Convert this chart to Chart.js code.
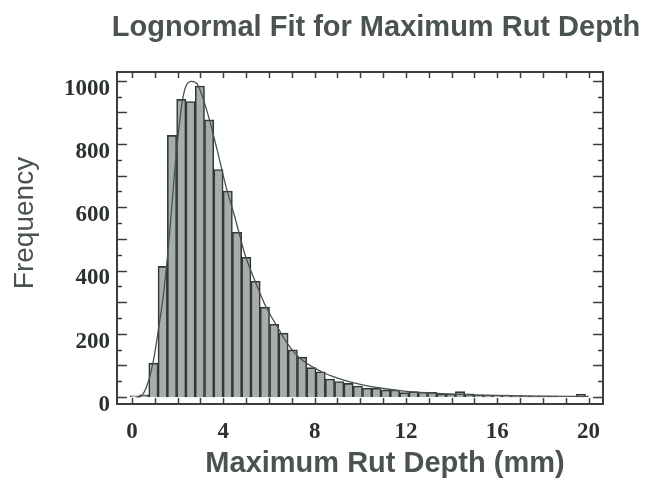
<!DOCTYPE html>
<html>
<head>
<meta charset="utf-8">
<script src="https://cdn.jsdelivr.net/npm/chart.js@4"></script>
<style>
  html, body { margin: 0; padding: 0; background: #fff; }
  canvas { display: block; }
</style>
</head>
<body>
<canvas id="rutChart" width="656" height="483"></canvas>
<script>
// histogram of maximum rut depth (mm)
const binStart = -0.08;
const binWidth = 0.407;
const counts = [
  4, 7, 107, 413, 827, 941, 934, 983, 876, 719,
  651, 521, 442, 366, 284, 230, 202, 149, 126, 93,
  80, 57, 49, 43, 35, 28, 28, 22, 22, 14,
  17, 16, 15, 10, 10, 17, 10, 7, 6, 5,
  6, 3, 3, 3, 3, 3, 0, 0, 9, 0
];

// lognormal fit curve
const fitDepth = [0.2, 0.4, 0.7, 0.95, 1.15, 1.37, 1.6, 1.94, 2.24, 2.6, 2.85, 3.3, 3.7, 4.1, 4.5, 4.95, 5.4, 5.85, 6.3, 6.8, 7.4, 8.3, 9, 10, 11, 12, 13, 14, 16, 18, 20];
const fitFreq  = [0, 3, 45, 120, 210, 320, 480, 770, 950, 998, 990, 900, 790, 670, 570, 450, 365, 288, 230, 170, 120, 80, 60, 40, 27, 18, 13, 9, 5, 3, 2];

const xTicks = [0, 4, 8, 12, 16, 20];
const yTicks = [0, 200, 400, 600, 800, 1000];

const titleText = 'Lognormal Fit for Maximum Rut Depth';
const xTitle = 'Maximum Rut Depth (mm)';
const yTitle = 'Frequency';

const barData = counts.map((c, i) => ({ x: binStart + (i + 0.5) * binWidth, y: c }));
const fitData = fitDepth.map((d, i) => ({ x: d, y: fitFreq[i] }));

const ink = '#2b312d';
const titleInk = '#4b534e';

// frame with inward ticks on all four sides, plus the titles
const framePlugin = {
  id: 'frame',
  afterDraw(chart) {
    const { ctx, chartArea: a, scales: { x, y } } = chart;
    ctx.save();
    ctx.strokeStyle = '#3a413c';
    ctx.lineWidth = 1.5;
    ctx.beginPath();
    for (let v = 0; v <= 20; v++) {
      const px = Math.round(x.getPixelForValue(v)) + 0.5;
      ctx.moveTo(px, a.bottom); ctx.lineTo(px, a.bottom - 6);
      ctx.moveTo(px, a.top); ctx.lineTo(px, a.top + 6);
    }
    for (let v = 0; v <= 1000; v += 50) {
      const py = Math.round(y.getPixelForValue(v)) + 0.5;
      const len = v % 100 === 0 ? 10 : 5;
      ctx.moveTo(a.left, py); ctx.lineTo(a.left + len, py);
      ctx.moveTo(a.right, py); ctx.lineTo(a.right - len, py);
    }
    ctx.stroke();
    ctx.lineWidth = 2;
    ctx.strokeRect(a.left, a.top, a.right - a.left, a.bottom - a.top);

    ctx.fillStyle = titleInk;
    ctx.textAlign = 'center';
    ctx.textBaseline = 'alphabetic';
    ctx.font = 'bold 29px "Liberation Sans", Arial, sans-serif';
    ctx.fillText(titleText, 376, 36);
    ctx.fillText(xTitle, 385, 472);
    ctx.font = '28px "Liberation Sans", Arial, sans-serif';
    ctx.translate(33, 223);
    ctx.rotate(-Math.PI / 2);
    ctx.fillText(yTitle, 0, 0);
    ctx.restore();
  }
};

new Chart(document.getElementById('rutChart'), {
  data: {
    datasets: [
      {
        type: 'line',
        data: fitData,
        borderColor: '#4a524c',
        borderWidth: 1.3,
        pointRadius: 0,
        cubicInterpolationMode: 'monotone',
        order: 1
      },
      {
        type: 'bar',
        data: barData,
        backgroundColor: '#a7ada9',
        borderColor: '#323934',
        borderWidth: 1.6,
        barPercentage: 1,
        categoryPercentage: 1,
        order: 2
      }
    ]
  },
  options: {
    responsive: false,
    animation: false,
    devicePixelRatio: 1,
    layout: { padding: { left: 0, right: 53, top: 72, bottom: 0 } },
    plugins: {
      legend: { display: false },
      tooltip: { enabled: false },
      title: { display: false }
    },
    scales: {
      x: {
        type: 'linear',
        offset: false,
        min: -0.657,
        max: 20.63,
        grid: { display: false, drawTicks: false, offset: false },
        border: { display: false },
        afterBuildTicks: s => { s.ticks = xTicks.map(v => ({ value: v })); },
        afterFit: s => { s.height = 79; },
        ticks: {
          padding: 14,
          maxRotation: 0,
          color: ink,
          callback: v => String(v),
          font: { family: '"Liberation Serif", "Times New Roman", serif', size: 23, weight: 'bold' }
        }
      },
      y: {
        min: -22,
        max: 1027.5,
        grid: { display: false, drawTicks: false },
        border: { display: false },
        afterBuildTicks: s => { s.ticks = yTicks.map(v => ({ value: v })); },
        afterFit: s => { s.width = 117; },
        ticks: {
          padding: 7,
          labelOffset: 8,
          color: ink,
          callback: v => String(v),
          font: { family: '"Liberation Serif", "Times New Roman", serif', size: 23, weight: 'bold' }
        }
      }
    }
  },
  plugins: [framePlugin]
});
</script>
</body>
</html>
